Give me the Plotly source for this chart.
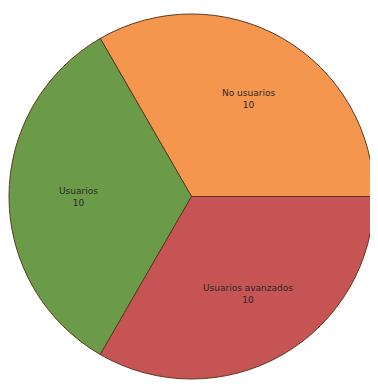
import math
import plotly.graph_objects as go

labels = ["No usuarios", "Usuarios", "Usuarios avanzados"]
values = [10, 10, 10]
colors = ["#F5964F", "#6B9A48", "#C75454"]

# page body has an 8px margin, so the figure is drawn at an offset of (8, 8)
OFF = 8
W, H = 378 - OFF, 384 - OFF
left, right, top, bottom = 9 - OFF, 374 - OFF, 12 - OFF, 381 - OFF
START_DEG = 0  # first slice starts at 3 o'clock, going counterclockwise

fig = go.Figure(go.Pie(
    labels=labels,
    values=values,
    sort=False,
    direction="counterclockwise",
    rotation=90 - START_DEG - 120,
    marker=dict(colors=colors, line=dict(color="#5a3a20", width=1)),
    textinfo="none",
    domain=dict(x=[left / W, right / W], y=[1 - bottom / H, 1 - top / H]),
    hoverinfo="label+value",
))

# labels placed along each slice's mid-angle, computed from the values
cx, cy = (left + right) / 2, (top + bottom) / 2
R = min(right - left, bottom - top) / 2
total = sum(values)
acc = 0
annotations = []
for lab, v in zip(labels, values):
    mid = math.radians(START_DEG + 360 * (acc + v / 2) / total)
    acc += v
    px = cx + 0.62 * R * math.cos(mid)
    py = cy - 0.62 * R * math.sin(mid)
    annotations.append(dict(
        x=px / W, y=1 - py / H, xref="paper", yref="paper",
        text=f"{lab}<br>{v}", showarrow=False,
        font=dict(family="DejaVu Sans", size=9, color="#2a2a2a"),
        align="center", xanchor="center", yanchor="middle",
    ))

fig.update_layout(
    width=W, height=H,
    margin=dict(l=0, r=0, t=0, b=0),
    showlegend=False,
    paper_bgcolor="white",
    annotations=annotations,
)
fig.write_html("out.html")
